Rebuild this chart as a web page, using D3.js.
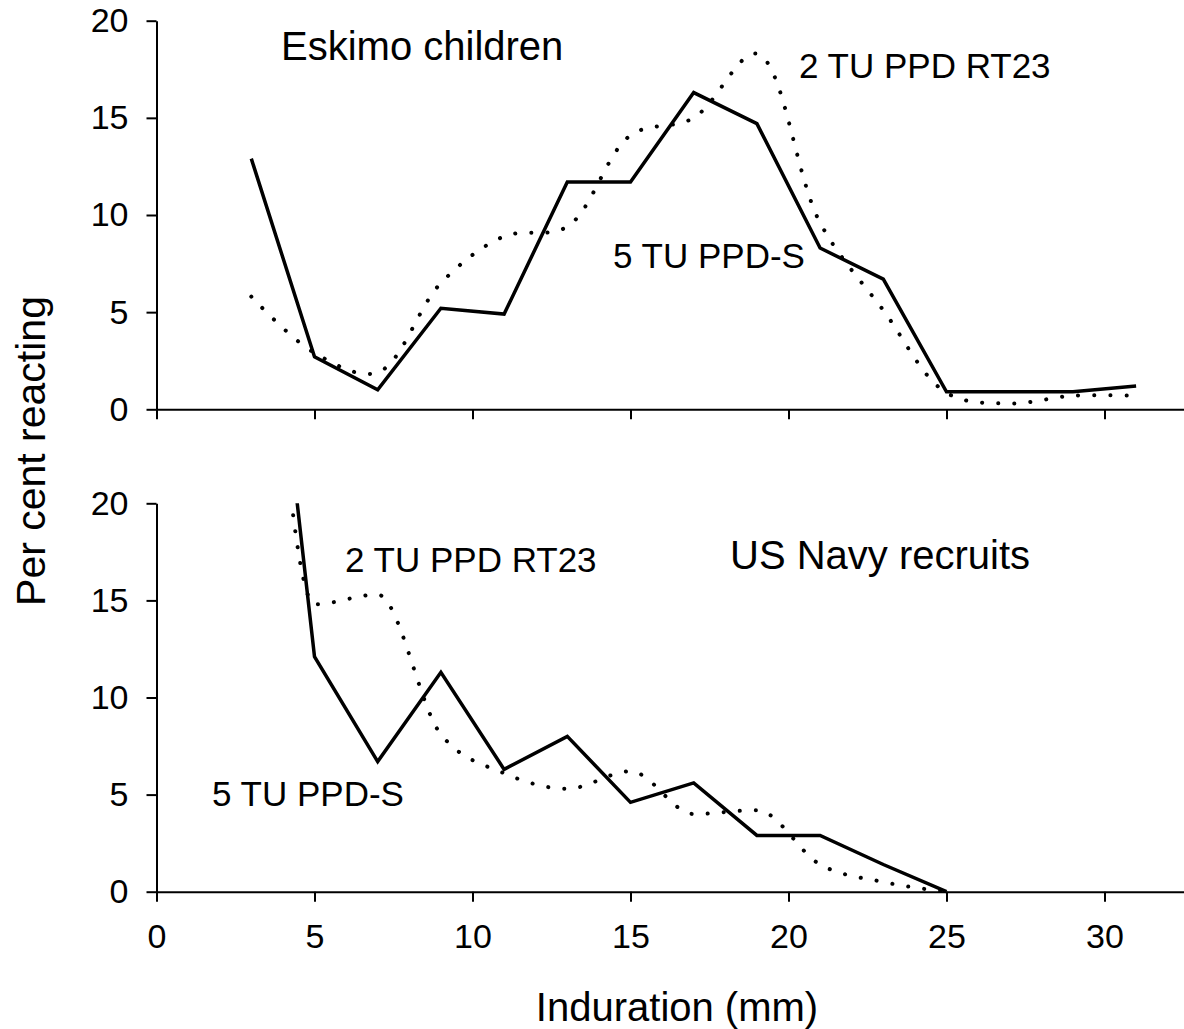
<!DOCTYPE html>
<html>
<head>
<meta charset="utf-8">
<script src="https://cdn.jsdelivr.net/npm/d3@7"></script>
<style>
  html, body { margin: 0; padding: 0; background: #fff; }
  text { font-family: "Liberation Sans", Arial, Helvetica, sans-serif; fill: #000; }
</style>
</head>
<body>
<svg id="chart" width="1184" height="1029"></svg>
<script>
// ---- data ----
const eskimoX = [3, 5, 7, 9, 11, 13, 15, 17, 19, 21, 23, 25, 27, 29, 31];
const eskimoPPDS = [12.9, 2.7, 1.0, 5.2, 4.9, 11.7, 11.7, 16.3, 14.7, 8.3, 6.7, 0.9, 0.9, 0.9, 1.2];
const eskimoRT23 = [5.8, 2.9, 1.9, 6.5, 8.9, 9.4, 14.1, 15.0, 18.3, 9.6, 5.1, 0.85, 0.3, 0.7, 0.7];

const navyX = [3, 5, 7, 9, 11, 13, 15, 17, 19, 21, 23, 25];
const navyPPDS = [41, 12.1, 6.7, 11.3, 6.3, 8.0, 4.6, 5.6, 2.9, 2.9, 1.4, 0];
const navyRT23 = [45, 14.8, 15.3, 8.1, 6.1, 5.3, 6.2, 4.0, 4.2, 1.4, 0.5, 0];

const xTicks = [0, 5, 10, 15, 20, 25, 30];
const yTicks = [0, 5, 10, 15, 20];

const panelTitles = ["Eskimo children", "US Navy recruits"];
const seriesNames = ["5 TU PPD-S", "2 TU PPD RT23"];
const xTitle = "Induration (mm)";
const yTitle = "Per cent reacting";

// ---- layout ----
const svg = d3.select("#chart");
const x = d3.scaleLinear().domain([0, 33]).range([156.5, 156.5 + 33 * 31.6]);
const yTop = d3.scaleLinear().domain([0, 20]).range([409.3, 20.7]);
const yBot = d3.scaleLinear().domain([0, 20]).range([891.7, 503.3]);

function panel(id, y, xs, solid, dotted, showXLabels, curve) {
  const g = svg.append("g");
  const clipId = "clip-" + id;
  svg.append("clipPath").attr("id", clipId)
    .append("rect")
    .attr("x", x(0)).attr("y", y(20))
    .attr("width", 1184 - x(0)).attr("height", y(0) - y(20) + 3);

  const line = d3.line()
    .x(d => x(d[0]))
    .y(d => y(d[1]))
    .curve(curve);

  const lin = d3.line().x(d => x(d[0])).y(d => y(d[1]));

  g.append("path")
    .datum(xs.map((v, i) => [v, dotted[i]]))
    .attr("clip-path", `url(#${clipId})`)
    .attr("d", line)
    .attr("fill", "none")
    .attr("stroke", "#000")
    .attr("stroke-width", 4)
    .attr("stroke-linecap", "round")
    .attr("stroke-dasharray", "0.1 16");

  g.append("path")
    .datum(xs.map((v, i) => [v, solid[i]]))
    .attr("clip-path", `url(#${clipId})`)
    .attr("d", lin)
    .attr("fill", "none")
    .attr("stroke", "#000")
    .attr("stroke-width", 3.5)
    .attr("stroke-linejoin", "miter");

  // y axis
  const ya = g.append("g")
    .attr("transform", `translate(${x(0)},0)`)
    .call(d3.axisLeft(y).tickValues(yTicks).tickSize(10).tickSizeOuter(0).tickPadding(18));
  ya.selectAll("text").style("font-size", "34px");

  // x axis
  const xa = g.append("g")
    .attr("transform", `translate(0,${y(0)})`)
    .call(d3.axisBottom(x).tickValues(xTicks).tickSize(10).tickSizeOuter(0).tickPadding(22)
      .tickFormat(showXLabels ? d3.format("d") : () => ""));
  xa.selectAll("text").style("font-size", "34px");

  [ya, xa].forEach(a => {
    a.selectAll("path, line").attr("stroke", "#000").attr("stroke-width", 2);
    a.selectAll("text").attr("fill", "#000").style("font-family", '"Liberation Sans", Arial, sans-serif');
  });
  return g;
}

panel("top", yTop, eskimoX, eskimoPPDS, eskimoRT23, false, d3.curveCatmullRom.alpha(0.5));
panel("bot", yBot, navyX, navyPPDS, navyRT23, true, d3.curveMonotoneX);

// annotations
function label(txt, px, py, size, anchor) {
  svg.append("text").attr("x", px).attr("y", py)
    .attr("text-anchor", anchor || "start")
    .style("font-size", size + "px").text(txt);
}
label(panelTitles[0], 281, 60, 40);
label(seriesNames[1], 799, 78, 35);
label(seriesNames[0], 613, 268, 35);
label(panelTitles[1], 730, 569, 40);
label(seriesNames[1], 345, 572, 35);
label(seriesNames[0], 212, 806, 35);

// axis titles
svg.append("text")
  .attr("x", 677).attr("y", 1021)
  .attr("text-anchor", "middle")
  .style("font-size", "40px").text(xTitle);

svg.append("text")
  .attr("transform", "translate(45,451) rotate(-90)")
  .attr("text-anchor", "middle")
  .style("font-size", "41px").text(yTitle);
</script>
</body>
</html>
